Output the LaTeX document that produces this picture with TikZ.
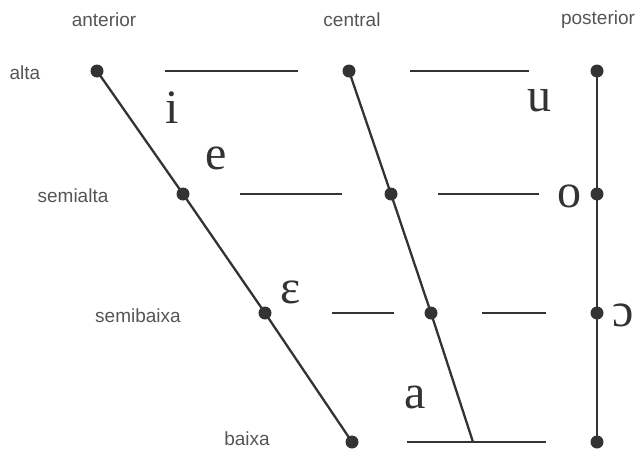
\documentclass[tikz,border=0pt]{standalone}
\usepackage{fontspec}
\setmainfont{Liberation Serif}
\setsansfont{Liberation Sans}
\usetikzlibrary{positioning}
\definecolor{ink}{HTML}{333333}
\definecolor{labelgray}{HTML}{555555}

\begin{document}
\begin{tikzpicture}[x=1pt,y=-1pt,
  dot/.style={circle,fill=ink,inner sep=0pt,minimum size=13pt},
  chart/.style={line width=2.3pt,draw=ink},
  lbl/.style={font=\sffamily\fontsize{19}{19}\selectfont,text=labelgray},
  vowel/.style={font=\fontsize{48}{48}\selectfont,text=ink}]

		\useasboundingbox (0,0) rectangle (641,450);

		% Column and row labels
		\node[lbl] (ant) at (104,20) {anterior};
		\node[lbl] (cen) at (352,20) {central};
		\node[lbl] (pos) at (598,20) {posterior};
		\node[lbl] (alta) at (25,73) {alta};
		\node[lbl] (salta) at (73,196) {semialta};
		\node[lbl] (sbaixa) at (138,316) {semibaixa};
		\node[lbl] (baixa) at (247,439) {baixa};

		% Dots on the three axes
		\node[dot] (A1) at (97,71) {};
		\node[dot] (A2) at (183,194) {};
		\node[dot] (A3) at (265,313) {};
		\node[dot] (A4) at (352,442) {};
		\node[dot] (C1) at (349,71) {};
		\node[dot] (C2) at (391,194) {};
		\node[dot] (C3) at (431,313) {};
		\coordinate (C4) at (473,442);
		\node[dot] (P1) at (597,71) {};
		\node[dot] (P2) at (597,194) {};
		\node[dot] (P3) at (597,313) {};
		\node[dot] (P4) at (597,442) {};

		% Slanted and vertical axes
		\draw[chart] (A1.center) -- (A2.center) -- (A3.center) -- (A4.center);
		\draw[chart] (C1.center) -- (C2.center) -- (C3.center) -- (C4);
		\draw[chart] (P1.center) -- (P2.center) -- (P3.center) -- (P4.center);

		% Horizontal segments
		\coordinate (h1a) at (165,71);  \coordinate (h1b) at (298,71);
		\coordinate (h1c) at (410,71);  \coordinate (h1d) at (529,71);
		\coordinate (h2a) at (240,194); \coordinate (h2b) at (342,194);
		\coordinate (h2c) at (438,194); \coordinate (h2d) at (539,194);
		\coordinate (h3a) at (332,313); \coordinate (h3b) at (394,313);
		\coordinate (h3c) at (482,313); \coordinate (h3d) at (546,313);
		\coordinate (h4a) at (407,442); \coordinate (h4b) at (546,442);
		\draw[chart] (h1a) -- (h1b);
		\draw[chart] (h1c) -- (h1d);
		\draw[chart] (h2a) -- (h2b);
		\draw[chart] (h2c) -- (h2d);
		\draw[chart] (h3a) -- (h3b);
		\draw[chart] (h3c) -- (h3d);
		\draw[chart] (h4a) -- (h4b);

		% Vowels
		\node[vowel] (vi) at (172,108) {i};
		\node[vowel] (ve) at (216,158) {e};
		\node[vowel] (veps) at (291,292) {ɛ};
		\node[vowel] (vu) at (539,101) {u};
		\node[vowel] (vo) at (569,196) {o};
		\node[vowel] (vop) at (623,315) {ɔ};
		\node[vowel] (va) at (415,397) {a};
	\end{tikzpicture}
\end{document}
